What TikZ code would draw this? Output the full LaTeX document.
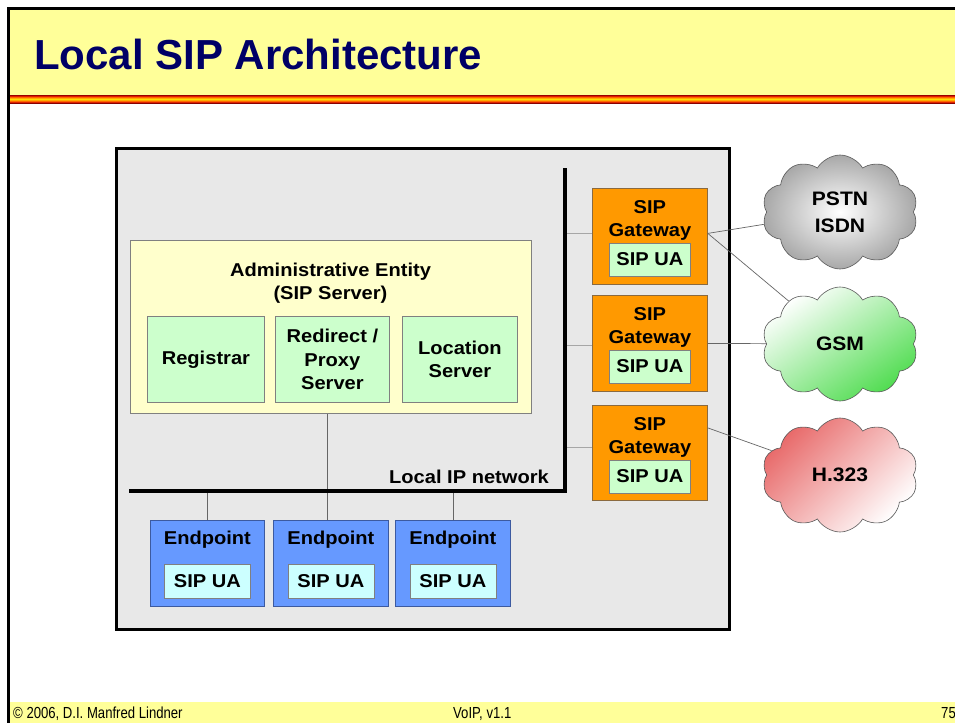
\documentclass[tikz,border=0pt]{standalone}
\usepackage{fontspec}
\setmainfont{Liberation Sans}
\newfontfamily\diagfont[FakeStretch=1.08]{Liberation Sans}
\newfontfamily\footfont[FakeStretch=0.82]{Liberation Sans}
\usetikzlibrary{shapes.symbols}
\definecolor{titleyel}{HTML}{FFFF99}
\definecolor{titleblue}{HTML}{000066}
\definecolor{boxgray}{HTML}{E8E8E8}
\definecolor{adminyel}{HTML}{FFFFCC}
\definecolor{lgreen}{HTML}{CCFFCC}
\definecolor{lcyan}{HTML}{CCFFFF}
\definecolor{epblue}{HTML}{6699FF}
\definecolor{epborder}{HTML}{3C5AA0}
\definecolor{gworange}{HTML}{FF9900}
\definecolor{gwborder}{HTML}{8A6A40}
\definecolor{gsmgreen}{HTML}{50DC50}
\definecolor{h323red}{HTML}{E86A6A}
\definecolor{pstngray}{HTML}{A8A8A8}
\definecolor{st0}{HTML}{990000}
\definecolor{st1}{HTML}{E02000}
\definecolor{st2}{HTML}{FF6600}
\definecolor{st3}{HTML}{FFAA00}
\definecolor{st4}{HTML}{FFDD00}
\definecolor{st5}{HTML}{FFAA00}
\definecolor{st6}{HTML}{FF6600}
\definecolor{st7}{HTML}{DD2200}
\definecolor{st8}{HTML}{880000}
\begin{document}
\begin{tikzpicture}[x=1pt,y=-1pt,
  box/.style={draw=black!50, line width=0.8pt, inner sep=0pt, anchor=north west, align=center},
  dtext/.style={font=\diagfont\bfseries\fontsize{18.6}{23.5}\selectfont, inner sep=0pt, align=center},
  cloudst/.style={cloud, cloud puffs=10, cloud puff arc=120, aspect=1.35, draw=black!65, line width=0.6pt,
    minimum width=156pt, minimum height=114pt, inner sep=0pt, align=center,
    font=\diagfont\bfseries\fontsize{19.5}{27}\selectfont},
  busconn/.style={gray!70, line width=0.8pt},
  epconn/.style={black!60, line width=0.8pt},
  cconn/.style={black!60, line width=0.7pt},
  foot/.style={font=\footfont\fontsize{16}{16}\selectfont, inner sep=0pt, anchor=base west}]
\useasboundingbox (0,0) rectangle (955,723);
\clip (0,0) rectangle (955,723);
\fill[white] (0,0) rectangle (955,723);
% slide frame
\fill[titleyel] (9,9) rectangle (955,95);
\foreach \c [count=\i from 0] in {st0,st1,st2,st3,st4,st5,st6,st7,st8}
  \fill[\c] (9,95+\i) rectangle (955,96+\i);
\fill[titleyel] (9,702) rectangle (955,723);
\fill[black] (7,7) rectangle (955,9.5);
\fill[black] (7,7) rectangle (9.5,723);
\node[font=\bfseries\fontsize{42}{42}\selectfont, text=titleblue, inner sep=0pt, anchor=base west] (title) at (34,69) {Local SIP Architecture};
\node[foot] (copy) at (13,718) {© 2006, D.I. Manfred Lindner};
\node[foot] (ver) at (453,718) {VoIP, v1.1};
\node[foot] (page) at (941,718) {75};
% LAN box
\node[box, fill=boxgray, draw=black, line width=2.5pt, minimum width=613pt, minimum height=481pt] (lan) at (115,147) {};
% administrative entity
\node[box, fill=adminyel, minimum width=401pt, minimum height=173pt] (admin) at (130,240) {};
\node[dtext] (admintitle) at (330.5,283) {Administrative Entity\\(SIP Server)};
\node[box, dtext, fill=lgreen, minimum width=117pt, minimum height=86pt] (reg) at (147,316) {Registrar};
\node[box, dtext, fill=lgreen, minimum width=114pt, minimum height=86pt] (red) at (275,316) {Redirect /\\Proxy\\Server};
\node[box, dtext, fill=lgreen, minimum width=115pt, minimum height=86pt] (loc) at (402,316) {Location\\Server};
% bus
\coordinate (busL) at (129,491);
\coordinate (busR) at (565,491);
\coordinate (busT) at (565,168);
\coordinate (busA) at (327,491);
\node[dtext, anchor=base east] (netlbl) at (549,483) {Local IP network};
% endpoints
\node[box, fill=epblue, draw=epborder, minimum width=114pt, minimum height=86pt] (ep1) at (150,520) {};
\node[box, fill=epblue, draw=epborder, minimum width=115pt, minimum height=86pt] (ep2) at (273,520) {};
\node[box, fill=epblue, draw=epborder, minimum width=115pt, minimum height=86pt] (ep3) at (395,520) {};
\foreach \e in {ep1,ep2,ep3}{
  \node[dtext, anchor=base] (\e t) at ([yshift=-24pt]\e.north) {Endpoint};
  \node[box, dtext, anchor=center, fill=lcyan, minimum width=86pt, minimum height=34pt] (\e ua) at ([yshift=-61pt]\e.north) {SIP UA};
}
% gateways
\node[box, fill=gworange, draw=gwborder, minimum width=115pt, minimum height=96pt] (gw1) at (592,188) {};
\node[box, fill=gworange, draw=gwborder, minimum width=115pt, minimum height=96pt] (gw2) at (592,295) {};
\node[box, fill=gworange, draw=gwborder, minimum width=115pt, minimum height=95pt] (gw3) at (592,405) {};
\foreach \g in {gw1,gw2,gw3}{
  \node[dtext, anchor=base] (\g a) at ([yshift=-25pt]\g.north) {SIP};
  \node[dtext, anchor=base] (\g b) at ([yshift=-48.5pt]\g.north) {Gateway};
  \node[box, dtext, anchor=center, fill=lgreen, minimum width=81pt, minimum height=33pt] (\g ua) at ([yshift=-71.5pt]\g.north) {SIP UA};
}
% connectors inside LAN
\draw[epconn] (admin.south -| busA) -- (ep2.north -| busA);
\draw[epconn] (ep1.north) -- (ep1.north |- busL);
\draw[epconn] (ep3.north) -- (ep3.north |- busL);
\coordinate (g1w) at ([yshift=3pt]gw1.west);
\coordinate (g2w) at ([yshift=-2pt]gw2.west);
\coordinate (g3w) at ([yshift=6pt]gw3.west);
\draw[busconn] (g1w -| busT) -- (g1w);
\draw[busconn] (g2w -| busT) -- (g2w);
\draw[busconn] (g3w -| busT) -- (g3w);
\draw[line width=4.5pt] (busL) -- (busR) -- (busT);
% outside networks
\coordinate (g1e) at ([yshift=3pt]gw1.east);
\coordinate (g3e) at ([yshift=25pt]gw3.east);
\node[cloudst, inner color=white, outer color=pstngray] (pstn) at (840,212) {PSTN\\ISDN};
\node[cloudst, top color=white, bottom color=gsmgreen, shading angle=35] (gsm) at (840,344) {GSM};
\node[cloudst, top color=h323red, bottom color=white, shading angle=45] (h323) at (840,475) {H.323};
\draw[cconn] (g1e) -- (pstn);
\draw[cconn] (g1e) -- (gsm);
\draw[cconn] (gw2.east) -- (gsm);
\draw[cconn] (g3e) -- (h323);
\end{tikzpicture}
\end{document}
